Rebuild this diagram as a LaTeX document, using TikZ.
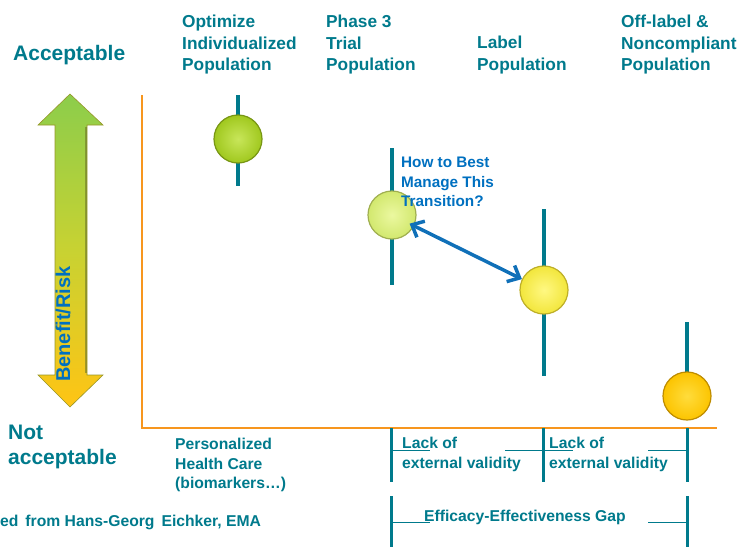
\documentclass[tikz,border=0pt]{standalone}
\usepackage{fontspec}
\setmainfont{Liberation Sans}
\usetikzlibrary{arrows.meta}
\definecolor{teal1}{RGB}{0,122,140}
\definecolor{blue1}{RGB}{0,112,192}
\definecolor{axis}{RGB}{247,150,30}
\definecolor{arrowblue}{RGB}{16,112,184}
\definecolor{arrowedge}{RGB}{110,120,40}
\begin{document}
\begin{tikzpicture}[x=1pt,y=-1pt,
  hdr/.style={anchor=north west,inner sep=0pt,align=left,text=teal1,font=\fontsize{17.3}{21.5}\selectfont\bfseries},
  big/.style={anchor=north west,inner sep=0pt,align=left,text=teal1,font=\fontsize{21}{25}\selectfont\bfseries},
  small/.style={anchor=north west,inner sep=0pt,align=left,text=teal1,font=\fontsize{15.7}{19.5}\selectfont\bfseries},
  bar/.style={draw=teal1,line width=4.5pt},
  brk/.style={draw=teal1,line width=3pt},
  thin/.style={draw=teal1,line width=1pt},
  ball/.style={circle,minimum size=48pt,inner sep=0pt,line width=1.2pt}
]
\useasboundingbox (0,0) rectangle (745,547);

% axes
\draw[axis,line width=1.3pt] (142,95) -- (142,428) -- (717,428);

% big benefit/risk arrow
\shade[top color={rgb,255:red,140;green,205;blue,75},bottom color={rgb,255:red,255;green,196;blue,20},middle color={rgb,255:red,200;green,210;blue,50},draw={rgb,255:red,150;green,150;blue,40},line width=0.6pt]
 (70,94) -- (103,125) -- (87,125) -- (87,375) -- (103,375) -- (70,407) -- (38,375) -- (55,375) -- (55,125) -- (38,125) -- cycle;
\draw[arrowedge,line width=1.6pt,opacity=0.6] (86,127) -- (86,373);
\node[rotate=90,text=blue1,font=\fontsize{20}{24}\selectfont\bfseries,inner sep=0pt] (br) at (63,324) {Benefit/Risk};

% headers
\node[big] (acc) at (13,45) {Acceptable};
\node[big] (nacc) at (8,425) {Not\\acceptable};
\node[hdr] (h1) at (182,15) {Optimize\\Individualized\\Population};
\node[hdr] (h2) at (326,15) {Phase 3\\Trial\\Population};
\node[hdr] (h3) at (477,36) {Label\\Population};
\node[hdr] (h4) at (621,15) {Off-label \&\\Noncompliant\\Population};

% error bars
\draw[bar] (238,95) -- (238,186);
\draw[bar] (392,148) -- (392,285);
\draw[bar] (544,209) -- (544,376);
\draw[bar] (687,322) -- (687,380);

% balls
\node[ball,draw={rgb,255:red,120;green,150;blue,20},inner color={rgb,255:red,200;green,230;blue,90},outer color={rgb,255:red,160;green,200;blue,30}] (c1) at (238,139) {};
\node[ball,draw={rgb,255:red,160;green,175;blue,80},inner color={rgb,255:red,235;green,248;blue,160},outer color={rgb,255:red,210;green,232;blue,110}] (c2) at (392,215) {};
\node[ball,draw={rgb,255:red,190;green,175;blue,40},inner color={rgb,255:red,255;green,248;blue,130},outer color={rgb,255:red,242;green,230;blue,60}] (c3) at (544,290) {};
\node[ball,draw={rgb,255:red,190;green,140;blue,0},inner color={rgb,255:red,255;green,220;blue,60},outer color={rgb,255:red,252;green,196;blue,0}] (c4) at (687,396) {};

% transition text and arrow
\node[anchor=north west,inner sep=0pt,align=left,text=blue1,font=\fontsize{15.3}{19.5}\selectfont\bfseries] (q) at (401,157) {How to Best\\Manage This\\Transition?};
\draw[arrowblue,line width=3.5pt,{Straight Barb[length=10pt,width=18pt]}-{Straight Barb[length=10pt,width=18pt]},shorten <=-5pt,shorten >=0pt] (c2) -- (c3);

% bottom texts
\node[small] (phc) at (175,438) {Personalized\\Health Care\\(biomarkers…)};
\node[small] (src) at (0,515) {ed\, from Hans-Georg\, Eichker, EMA};

% brackets
\draw[brk] (391,428) -- (391,482);
\draw[brk] (543,428) -- (543,482);
\draw[brk] (687,428) -- (687,482);
\draw[thin] (391,450) -- (430,450);
\draw[thin] (505,450) -- (573,450);
\draw[thin] (648,450) -- (687,450);
\node[small] (l1) at (402,437) {Lack of\\external validity};
\node[small] (l2) at (549,437) {Lack of\\external validity};

\draw[brk] (391,496) -- (391,547);
\draw[brk] (687,496) -- (687,547);
\draw[thin] (391,522) -- (430,522);
\draw[thin] (648,522) -- (687,522);
\node[small] (gap) at (424,510) {Efficacy-Effectiveness Gap};
\end{tikzpicture}
\end{document}
